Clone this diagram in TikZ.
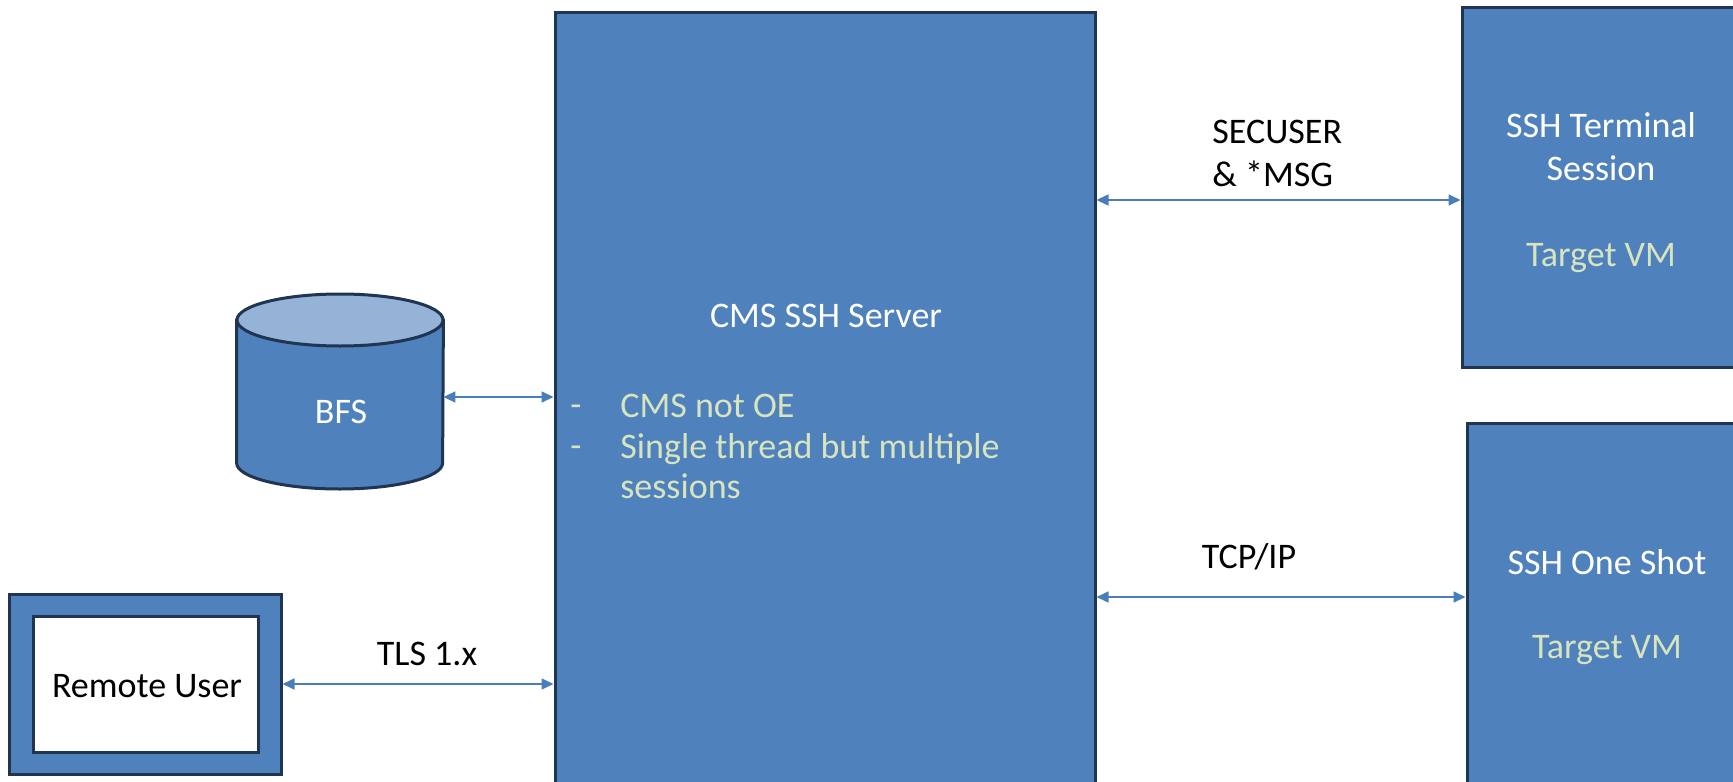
\documentclass[tikz,border=0pt]{standalone}
\usepackage{fontspec}
\setmainfont{Carlito}
\usetikzlibrary{arrows.meta,fit}
\definecolor{boxblue}{HTML}{4F81BD}
\definecolor{boxline}{HTML}{1F3552}
\definecolor{toplight}{HTML}{95B3D7}
\definecolor{vmtext}{HTML}{D7E4BD}
\definecolor{arrowblue}{HTML}{4A7EBB}
\begin{document}
\begin{tikzpicture}[x=0.5pt,y=-0.5pt,
  font=\fontsize{18}{21.5}\selectfont,
  blk/.style={draw=boxline, fill=boxblue, line width=1.5pt, inner sep=0pt},
  conn/.style={draw=arrowblue, line width=0.8pt, {Triangle[length=6pt,width=5.5pt]}-{Triangle[length=6pt,width=5.5pt]}},
  lbl/.style={text=black, align=left, inner sep=0pt},
  wt/.style={text=white, align=center, inner sep=0pt},
  vm/.style={text=vmtext, align=left, inner sep=0pt}]
\clip (0,0) rectangle (1733,781);
% boxes
\node[blk, fit={(555,13) (1095,800)}] (cms) {};
\node[blk, fit={(1462,8) (1760,367)}] (term) {};
\node[blk, fit={(1467,423) (1760,800)}] (shot) {};
\node[blk, fit={(9,594) (281,774)}] (ru) {};
\node[blk, fill=white, fit={(33,616) (258,752)}] (ruin) {};
% cylinder
\node[inner sep=0pt, fit={(237,294) (443,489)}] (bfs) {};
\path[blk] (bfs.west |- 0,320) -- (bfs.west |- 0,463)
  arc[start angle=180, end angle=360, x radius=51.5pt, y radius=13pt]
  -- (bfs.east |- 0,320) -- cycle;
\path[draw=boxline, fill=toplight, line width=1.5pt] (bfs.north |- 0,320) ellipse[x radius=51.5pt, y radius=13pt];
% connectors
\coordinate (yb) at (0,397);
\coordinate (ys) at (0,200);
\coordinate (yt) at (0,597);
\draw[conn] (ru.east) -- (ru.east -| cms.west);
\draw[conn] (bfs.east |- yb) -- (cms.west |- yb);
\draw[conn] (cms.east |- ys) -- (term.west |- ys);
\draw[conn] (cms.east |- yt) -- (shot.west |- yt);
% labels
\node[lbl] (tls) at (427,654) {TLS 1.x};
\node[lbl, anchor=west] (sec) at (1212,153.5) {SECUSER\\\& *MSG};
\node[lbl] (tcp) at (1249,557) {TCP/IP};
\node[wt] (termt) at (1601,146.5) {SSH Terminal\\Session};
\node[vm] (termvm) at (1601,258) {Target VM};
\node[wt] (shott) at (1607,562) {SSH One Shot};
\node[vm] (shotvm) at (1607,650) {Target VM};
\node[wt] (cmst) at (826,316) {CMS SSH Server};
\node[vm] (d1) at (576,411) {-};
\node[vm] (d2) at (576,452) {-};
\node[vm, anchor=west] (l1) at (620,406) {CMS not OE};
\node[vm, anchor=west, font=\fontsize{18}{20}\selectfont] (l2) at (620,466.5) {Single thread but multiple\\sessions};
\node[wt] (bfst) at (341,412) {BFS};
\node[lbl] (rut) at (147,686) {Remote User};
\end{tikzpicture}
\end{document}
